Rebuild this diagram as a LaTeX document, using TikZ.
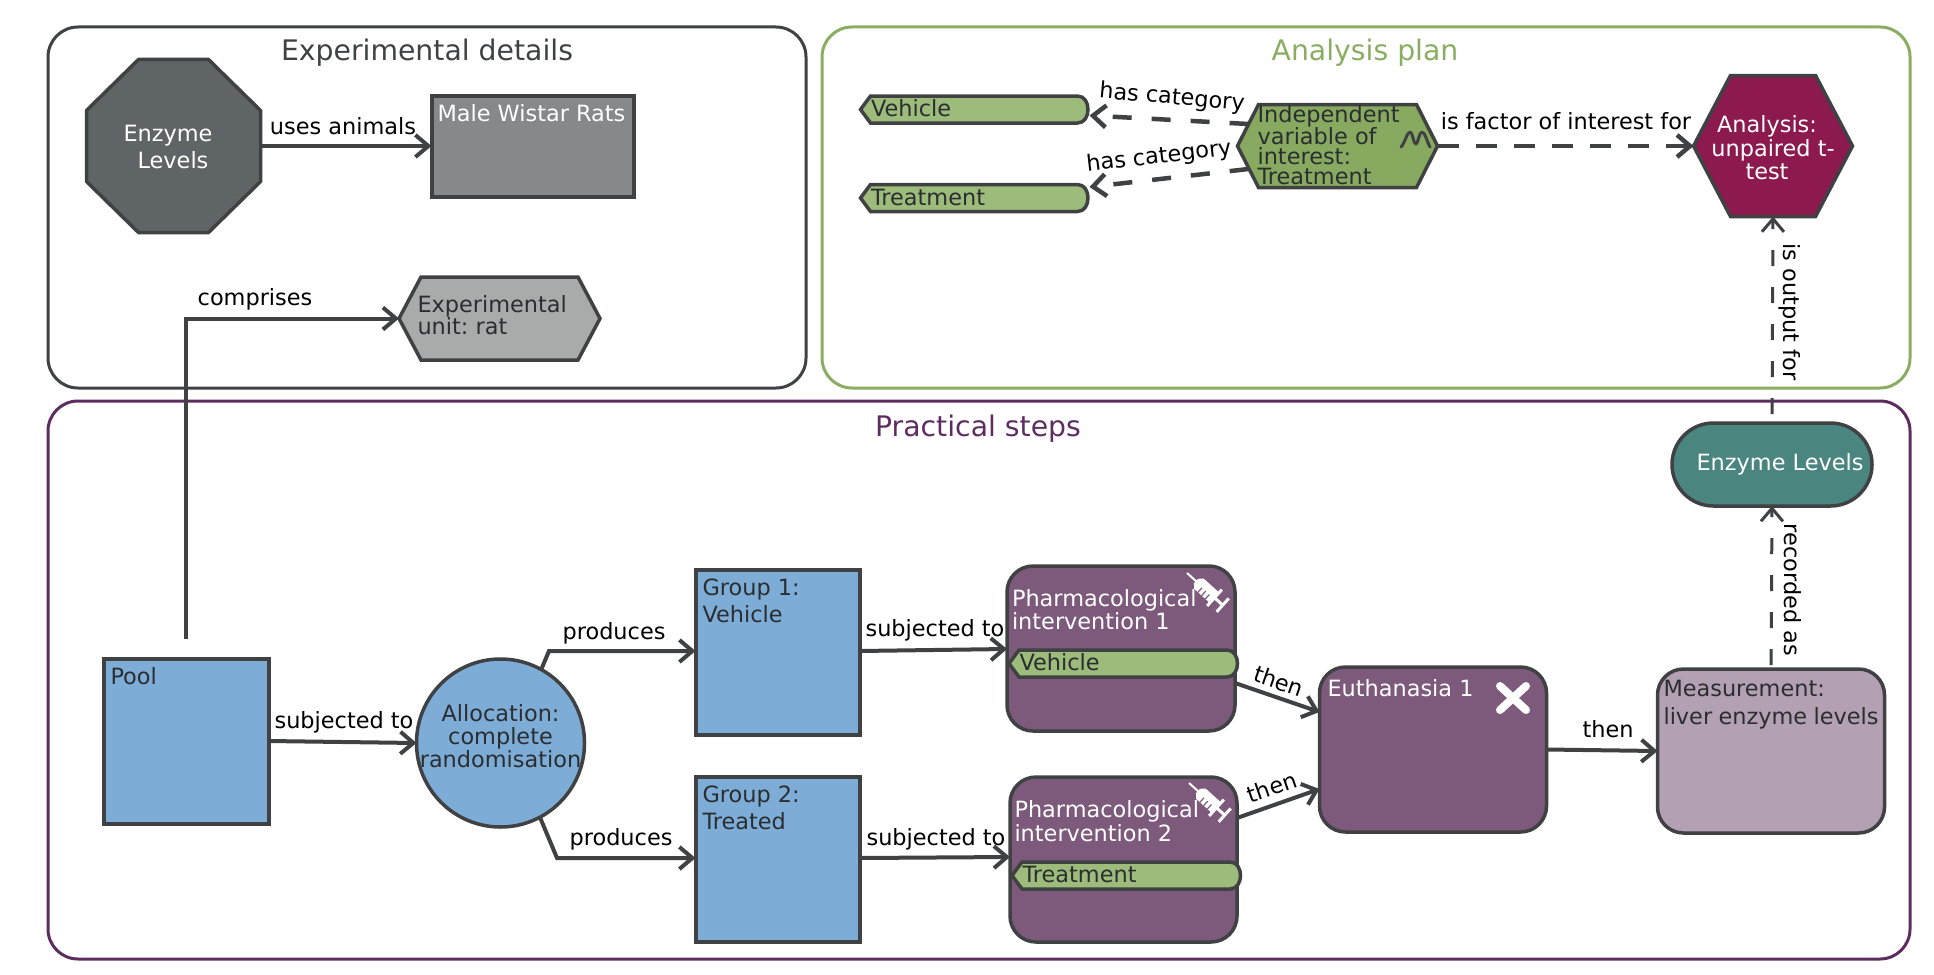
\documentclass[tikz,border=0pt]{standalone}
\usepackage{fontspec}
\setmainfont{DejaVu Sans}
\usetikzlibrary{arrows.meta,shapes.misc}
\definecolor{linegrey}{HTML}{3F4143}
\definecolor{textdark}{HTML}{2B2E30}
\definecolor{octfill}{HTML}{5F6566}
\definecolor{animalfill}{HTML}{87888A}
\definecolor{unitfill}{HTML}{A9ABAA}
\definecolor{planline}{HTML}{8AAD62}
\definecolor{varfill}{HTML}{88AA60}
\definecolor{tagfill}{HTML}{9DBB7A}
\definecolor{analysisfill}{HTML}{8C1A4F}
\definecolor{stepsline}{HTML}{5E2D60}
\definecolor{poolfill}{HTML}{7DADD7}
\definecolor{interfill}{HTML}{7D5A7B}
\definecolor{measurefill}{HTML}{B3A0B3}
\definecolor{outcomefill}{HTML}{4B8580}
\newcommand{\toptext}[3]{\parbox[c][#2][t]{#1}{\raggedright #3}}
% pointed tag: empty node for the outline, then the text on top
\newcommand{\tagnode}[5]{%
\node[sizebox,minimum width=#4,minimum height=27] (#1) at (#2,#3) {};
\draw[boxline,fill=tagfill] (#1.west) -- ([xshift=10]#1.north west) -- ([xshift=-12]#1.north east) .. controls ([xshift=2]#1.north east) and ([xshift=2]#1.south east) .. ([xshift=-12]#1.south east) -- ([xshift=10]#1.south west) -- cycle;
\node[anchor=west,text=textdark] (#1text) at ([shift={(7,-1)}]#1.west) {#5};
}
% cut corners: name, x, y, width, height, cut in x, cut in y, fill
\newcommand{\cutnode}[8]{%
\node[sizebox,minimum width=#4,minimum height=#5] (#1) at (#2,#3) {};
\draw[boxline,fill=#8] ([yshift=-#7]#1.north west) -- ([xshift=#6]#1.north west) -- ([xshift=-#6]#1.north east) -- ([yshift=-#7]#1.north east) -- ([yshift=#7]#1.south east) -- ([xshift=-#6]#1.south east) -- ([xshift=#6]#1.south west) -- ([yshift=#7]#1.south west) -- cycle;
}
\newcommand{\syringe}[2]{%
\begin{scope}[shift={(#1,#2)},rotate=-42]
\draw[white,line width=2pt] (0,0) -- (14,0);
\fill[white] (12,-3) -- (16,-7) -- (37,-7) -- (37,7) -- (16,7) -- (12,3) -- cycle;
\draw[white,line width=3pt] (37,-11) -- (37,11);
\draw[white,line width=3pt] (37,0) -- (48,0);
\draw[white,line width=3pt] (48,-9) -- (48,9);
\foreach \tx in {21,26,31} \draw[interfill,line width=1.2pt] (\tx,7) -- (\tx,1);
\end{scope}
}
\tikzset{
panel/.style={draw,rounded corners=30,line width=3pt,minimum width=#1},
title/.style={font=\fontsize{28.3}{32}\selectfont},
boxline/.style={draw=linegrey,line width=3.5pt},
flatbox/.style={draw=linegrey,line width=4pt,inner sep=0pt,outer sep=0pt},
roundbox/.style={boxline,inner sep=0pt,outer sep=0pt,rounded corners=26},
sizebox/.style={inner sep=0pt,outer sep=0pt},
tight/.style={font=\fontsize{22.4}{20}\selectfont,align=left},
link/.style={->,draw=linegrey,line width=4pt},
maybe/.style={->,draw=linegrey,line width=4.5pt,dash pattern=on 19pt off 20pt},
thinmaybe/.style={->,draw=linegrey,line width=3pt,dash pattern=on 16pt off 21pt},
lab/.style={inner sep=0pt,text=black}
}
\begin{document}
\frenchspacing
\begin{tikzpicture}[x=1pt,y=-1pt,>={Straight Barb[length=13pt,width=22pt]},line cap=butt,line join=miter,font=\fontsize{22.4}{26}\selectfont]
\useasboundingbox (0,0) rectangle (1934,974);
% panels
\node[panel=758,draw=linegrey,minimum height=361] (detailspanel) at (427,207.5) {};
\node[panel=1088,draw=planline,minimum height=361] (planpanel) at (1366,207.5) {};
\node[panel=1862,draw=stepsline,minimum height=558] (stepspanel) at (979,680) {};
\node[title,text=linegrey] (detailstitle) at (427,53) {Experimental details};
\node[title,text=planline] (plantitle) at (1365,53) {Analysis plan};
\node[title,text=stepsline] (stepstitle) at (978,429) {Practical steps};
% experimental details
\cutnode{study}{173.5}{146}{174}{173}{52}{51}{octfill}
\node[text=white,align=center,font=\fontsize{22.4}{27}\selectfont] (studytext) at (173,147) {Enzyme\hspace*{10pt}\\Levels};
\node[flatbox,fill=animalfill,text=white,minimum width=202,minimum height=101] (animals) at (532.5,146) {\toptext{190pt}{84pt}{Male Wistar Rats}};
\cutnode{unit}{499.5}{318.5}{201}{83}{22}{41.5}{unitfill}
\node[tight,anchor=west,text=textdark] (unittext) at (414,315) {Experimental\\unit: rat};
% analysis plan
\tagnode{vehicle}{975}{109.5}{229}{Vehicle}
\tagnode{treatment}{975}{198}{229}{Treatment}
\cutnode{variable}{1337.5}{146}{200}{83}{21}{41.5}{varfill}
\node[tight,anchor=west,text=textdark] (variabletext) at (1254,145) {Independent\\variable of\\interest:\\Treatment};
\cutnode{analysis}{1773}{146}{159}{141}{37}{70.5}{analysisfill}
\node[text=white,align=center,font=\fontsize{22.4}{23.5}\selectfont] (analysistext) at (1773,148) {Analysis:\hspace*{12pt}\\unpaired t-\\test\hspace*{12pt}};
% squiggle icon
\draw[linegrey,line width=3pt,line cap=round,line join=round] (1401,147) .. controls (1405,143) and (1407,132) .. (1410,132) .. controls (1413,132) and (1413,144) .. (1416,144) .. controls (1418,144) and (1419,132) .. (1422,132) .. controls (1425,132) and (1427,142) .. (1430,147);
% practical steps
\node[flatbox,fill=poolfill,text=textdark,minimum width=165,minimum height=165] (pool) at (186,741) {\toptext{151pt}{147pt}{Pool}};
\node[boxline,circle,fill=poolfill,text=textdark,minimum size=168,inner sep=0pt,outer sep=0pt,font=\fontsize{22.4}{23}\selectfont] (allocation) at (500.5,743) {\makebox[0pt]{\parbox{170pt}{\centering Allocation:\\complete\\randomisation\\[-9pt]\mbox{}}}};
\node[flatbox,fill=poolfill,text=textdark,minimum width=164,minimum height=165,font=\fontsize{22.4}{27}\selectfont] (group1) at (777.5,652) {\toptext{150pt}{147pt}{Group 1:\\Vehicle}};
\node[flatbox,fill=poolfill,text=textdark,minimum width=164,minimum height=165,font=\fontsize{22.4}{27}\selectfont] (group2) at (777.5,859.5) {\toptext{150pt}{147pt}{Group 2:\\Treated}};
\node[roundbox,fill=interfill,text=white,minimum width=228,minimum height=165,font=\fontsize{22.4}{23}\selectfont] (inter1) at (1121,648.5) {\toptext{218pt}{137pt}{\vspace*{9pt}Pharmacological\\intervention 1}};
\node[roundbox,fill=interfill,text=white,minimum width=227,minimum height=165,font=\fontsize{22.4}{24}\selectfont] (inter2) at (1123.5,859.5) {\toptext{218pt}{137pt}{\vspace*{9pt}Pharmacological\\intervention 2}};
\syringe{1187}{573}
\syringe{1189}{783}
\tagnode{dose1}{1124}{663.5}{230}{Vehicle}
\tagnode{dose2}{1127}{875.5}{230}{Treatment}
\node[roundbox,fill=interfill,text=white,minimum width=227,minimum height=165] (euthanasia) at (1433,749.5) {\toptext{211pt}{141pt}{Euthanasia 1}};
\draw[white,line width=8pt,line cap=round] (1500,686) -- (1526,710) (1526,686) -- (1500,710);
\node[roundbox,fill=measurefill,text=textdark,minimum width=227,minimum height=164,font=\fontsize{22.4}{28}\selectfont] (measurement) at (1771,751) {\toptext{215pt}{141pt}{Measurement:\\liver enzyme levels}};
\node[boxline,rounded rectangle,fill=outcomefill,text=white,minimum width=200,minimum height=83,inner sep=0pt,outer sep=0pt] (outcome) at (1772,464.5) {\hspace*{16pt}Enzyme Levels};
% connectors
\draw[link] (study.east) -- (animals.west);
\draw[link,shorten <=20pt] (pool.north) |- (unit.west);
\draw[link] (pool.east) -- (allocation.west);
\draw[link] (allocation.61) -- (549,651) -- (group1.west |- 0,651);
\draw[link] (allocation.-62) -- (557,858) -- (group2.west |- 0,858);
\draw[link] (group1.east |- 0,651) -- (inter1.west |- 0,649);
\draw[link] (group2.east |- 0,858) -- (inter2.west |- 0,857);
\draw[link] (inter1.east |- 0,683) -- (euthanasia.west |- 0,712);
\draw[link] (inter2.east |- 0,818) -- (euthanasia.west |- 0,789);
\draw[link] (euthanasia.east) -- (measurement.west);
\draw[thinmaybe,shorten <=4pt] (measurement.north) -- (outcome.south);
\draw[thinmaybe,shorten <=9pt] (outcome.north) -- (analysis.south);
\draw[maybe] ([shift={(11,-22)}]variable.west) -- ([yshift=-6]vehicle.east);
\draw[maybe] ([shift={(11,23)}]variable.west) -- ([yshift=11]treatment.east);
\draw[maybe,dash pattern=on 21pt off 17pt] (variable.east) -- (analysis.west);
% connector labels
\node[lab] (usesanimals) at (343,126) {uses animals};
\node[lab] (comprises) at (255,299) {comprises};
\node[lab,rotate=-5] (hascat1) at (1172,98) {has category};
\node[lab,rotate=6.5] (hascat2) at (1159,157) {has category};
\node[lab] (factor) at (1566,121) {is factor of interest for};
\node[lab,rotate=-90] (output) at (1790,312) {is output for};
\node[lab,rotate=-90] (recorded) at (1793,590) {recorded as};
\node[lab] (subjected0) at (344,722) {subjected to};
\node[lab] (produces1) at (614,633) {produces};
\node[lab] (produces2) at (621,839) {produces};
\node[lab] (subjected1) at (935,630) {subjected to};
\node[lab] (subjected2) at (936,839) {subjected to};
\node[lab,rotate=-19] (then1) at (1279,681) {then};
\node[lab,rotate=19] (then2) at (1272,787) {then};
\node[lab] (then3) at (1608,729) {then};
\end{tikzpicture}
\end{document}
